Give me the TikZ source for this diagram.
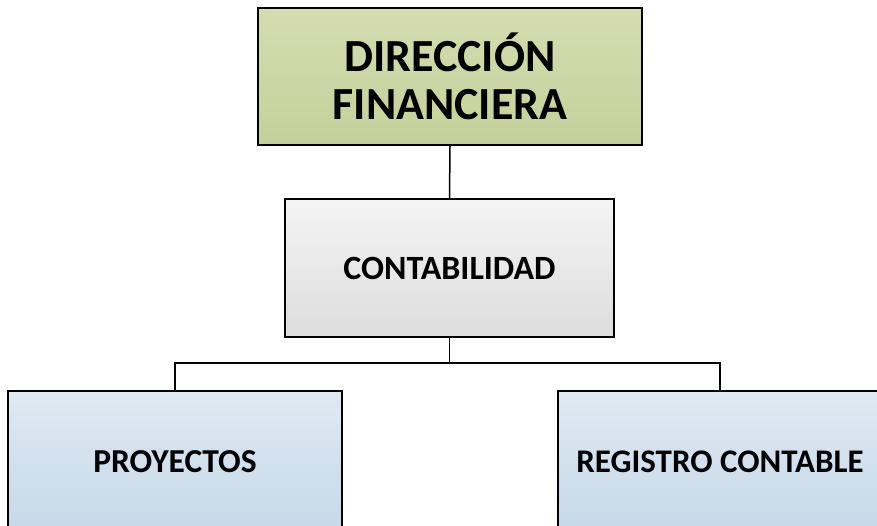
\documentclass[tikz,border=0pt]{standalone}
\usepackage{fontspec}
\setmainfont{Carlito}
\begin{document}
\begin{tikzpicture}[x=1pt,y=-1pt,
  box/.style={draw=black,line width=1.7pt,rectangle,inner sep=0pt,align=center,font=\bfseries},
  conn/.style={draw=black,line width=1.5pt}]
\useasboundingbox (0,0) rectangle (877,525);
\clip (0,0) rectangle (877,525);
\node[box,minimum width=384pt,minimum height=137pt,top color={rgb,255:red,213;green,221;blue,176},bottom color={rgb,255:red,196;green,208;blue,155},font=\bfseries\fontsize{46}{48}\selectfont] (dir) at (450,76.5) {DIRECCIÓN\\FINANCIERA};
\node[box,minimum width=329pt,minimum height=138pt,top color={rgb,255:red,244;green,244;blue,244},bottom color={rgb,255:red,221;green,221;blue,221},font=\bfseries\fontsize{34}{36}\selectfont] (con) at (449.5,268) {CONTABILIDAD};
\node[box,minimum width=334pt,minimum height=142pt,top color={rgb,255:red,223;green,233;blue,242},bottom color={rgb,255:red,198;green,216;blue,233},font=\bfseries\fontsize{33.5}{36}\selectfont] (pro) at (175,462) {PROYECTOS};
\node[box,minimum width=324pt,minimum height=142pt,top color={rgb,255:red,223;green,233;blue,242},bottom color={rgb,255:red,198;green,216;blue,233},font=\bfseries\fontsize{33}{36}\selectfont] (reg) at (720,462) {REGISTRO CONTABLE};
\coordinate (split) at (449.5,363);
\draw[conn] (dir.south) -- (con.north);
\draw[conn] (con.south) -- (split);
\draw[conn] (split) -| (pro.north);
\draw[conn] (split) -| (reg.north);
\end{tikzpicture}
\end{document}
